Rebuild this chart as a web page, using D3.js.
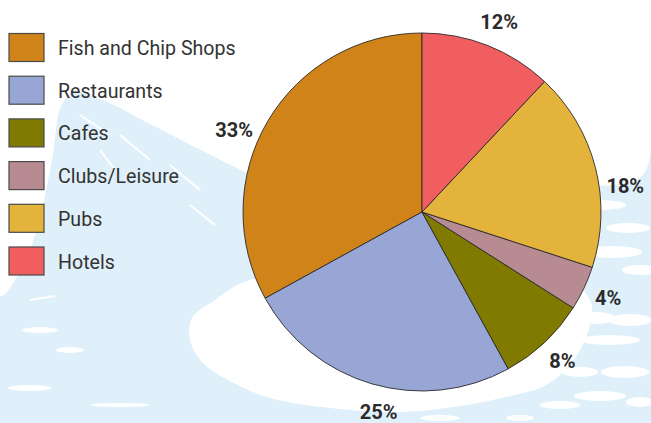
<!DOCTYPE html>
<html>
<head>
<meta charset="utf-8">
<script src="https://cdn.jsdelivr.net/npm/d3@7/dist/d3.min.js"></script>
<style>
  html, body { margin: 0; padding: 0; background: #fff; }
  svg { display: block; }
</style>
</head>
<body>
<svg id="chart" width="651" height="423"></svg>
<script>
// Share of outlets by type (percent)
const categories = ["Fish and Chip Shops", "Restaurants", "Cafes", "Clubs/Leisure", "Pubs", "Hotels"];
const values = [33, 25, 8, 4, 18, 12];
const valueLabels = ["33%", "25%", "8%", "4%", "18%", "12%"];
const colors = ["#d08318", "#98a6d5", "#807a00", "#b88a92", "#e4b33b", "#f05e5f"];

const W = 651, H = 423;
const svg = d3.select("#chart");

// ---- backdrop: pale blue coastline wash ----
const bg = svg.append("g");
bg.append("rect").attr("width", W).attr("height", H).attr("fill", "#dff0fa");
const line = d3.line().curve(d3.curveCatmullRomClosed);
// open white area across the top
bg.append("path").attr("fill", "#fff").attr("d", line([
  [0, 0], [651, 0], [651, 150], [640, 178], [600, 186], [500, 190], [300, 190],
  [255, 176], [205, 152], [150, 124], [105, 101], [76, 92], [62, 104], [52, 160],
  [38, 225], [22, 268], [0, 296]
]));
// white halo below the pie
bg.append("path").attr("fill", "#fff").attr("d", line([
  [250, 280], [215, 300], [192, 318], [190, 340], [202, 362], [232, 382],
  [270, 398], [330, 408], [400, 412], [460, 406], [510, 396], [548, 384],
  [580, 350], [590, 300], [520, 260]
]));
// light streaks in the water on the right and left
const streaks = [
  [600, 205, 26, 5], [628, 228, 22, 5], [612, 252, 30, 6], [640, 270, 18, 5],
  [596, 318, 20, 6], [630, 320, 22, 6], [610, 340, 30, 5], [580, 372, 18, 5],
  [625, 372, 24, 6], [600, 396, 26, 5], [640, 402, 14, 5], [560, 405, 20, 4],
  [40, 330, 18, 3], [70, 350, 14, 3], [30, 388, 22, 3], [120, 405, 30, 2],
  [440, 418, 20, 3], [520, 418, 14, 3]
];
bg.selectAll("ellipse.streak").data(streaks).join("ellipse")
  .attr("class", "streak")
  .attr("cx", d => d[0]).attr("cy", d => d[1])
  .attr("rx", d => d[2]).attr("ry", d => d[3])
  .attr("fill", "#fff");
const dashes = [
  [[80, 115], [110, 135]], [[120, 135], [150, 160]], [[170, 165], [200, 190]],
  [[100, 150], [115, 170]], [[190, 205], [215, 225]], [[30, 300], [55, 296]]
];
bg.selectAll("path.dash").data(dashes).join("path")
  .attr("class", "dash")
  .attr("d", d => d3.line()(d))
  .attr("stroke", "#fff").attr("stroke-width", 2).attr("fill", "none");

// ---- pie ----
const cx = 422, cy = 212, R = 179;
const pie = d3.pie().sort(null).value(d => d.value)
  .startAngle(2 * Math.PI).endAngle(0);
const data = categories.map((c, i) => ({ name: c, value: values[i], label: valueLabels[i], color: colors[i] }));
const arcs = pie(data);
const arc = d3.arc().innerRadius(0).outerRadius(R);

const g = svg.append("g").attr("transform", `translate(${cx},${cy})`);
g.selectAll("path.slice").data(arcs).join("path")
  .attr("class", "slice")
  .attr("d", arc)
  .attr("fill", d => d.data.color)
  .attr("stroke", "#2a2a2a")
  .attr("stroke-width", 0.9)
  .attr("stroke-linejoin", "round");

// percentage labels around the rim (small angular nudges keep them clear of each other)
const labelR = 205;
const nudgeDeg = [-7, -4, 0, -0.5, 7, 0.5];
g.selectAll("text.pct").data(arcs).join("text")
  .attr("class", "pct")
  .attr("x", (d, i) => {
    const a = (d.startAngle + d.endAngle) / 2 + nudgeDeg[i] * Math.PI / 180;
    return labelR * Math.sin(a);
  })
  .attr("y", (d, i) => {
    const a = (d.startAngle + d.endAngle) / 2 + nudgeDeg[i] * Math.PI / 180;
    return -labelR * Math.cos(a);
  })
  .attr("text-anchor", "middle")
  .attr("dominant-baseline", "central")
  .attr("font-family", "Roboto, 'Open Sans', sans-serif")
  .attr("font-weight", "bold")
  .attr("font-size", 20)
  .attr("fill", "#2b2b2b")
  .text(d => d.data.label);

// ---- legend ----
const legend = svg.append("g").attr("transform", "translate(9,33.5)");
const rowY = d3.scaleBand().domain(categories).range([0, 42.7 * categories.length]);
const rows = legend.selectAll("g.row").data(data).join("g")
  .attr("class", "row")
  .attr("transform", d => `translate(0,${rowY(d.name)})`);
rows.append("rect")
  .attr("width", 35).attr("height", 28)
  .attr("fill", d => d.color)
  .attr("stroke", "#4a4a4a").attr("stroke-width", 1.2);
rows.append("text")
  .attr("x", 49).attr("y", 21.5)
  .attr("font-family", "Roboto, 'Open Sans', sans-serif")
  .attr("font-size", 19.6)
  .attr("fill", "#333")
  .text(d => d.name);
</script>
</body>
</html>
